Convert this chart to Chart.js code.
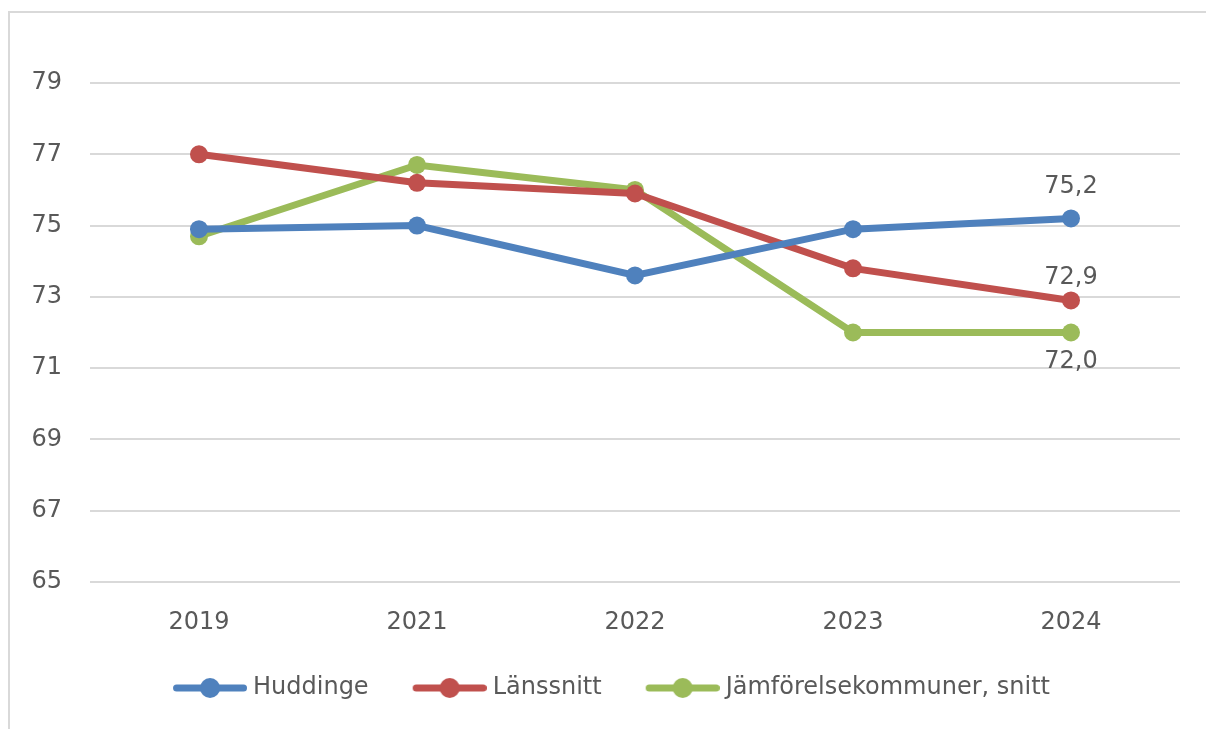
<!DOCTYPE html>
<html>
<head>
<meta charset="utf-8">
<script src="https://cdn.jsdelivr.net/npm/chart.js@4/dist/chart.umd.min.js"></script>
<style>
  html, body { margin: 0; padding: 0; background: #ffffff; }
  #wrap { width: 1206px; height: 729px; position: relative; }
</style>
</head>
<body>
<div id="wrap"><canvas id="c" width="1206" height="729"></canvas></div>
<script>
const categories = ['2019', '2021', '2022', '2023', '2024'];
const huddinge = [74.9, 75.0, 73.6, 74.9, 75.2];
const lanssnitt = [77.0, 76.2, 75.9, 73.8, 72.9];
const jamforelse = [74.7, 76.7, 76.0, 72.0, 72.0];
const seriesNames = ['Huddinge', 'Länssnitt', 'Jämförelsekommuner, snitt'];
const seriesColors = ['#4F81BD', '#C0504D', '#9BBB59'];
const yTicks = [65, 67, 69, 71, 73, 75, 77, 79];
const lastLabelOffsets = [-32, -23, 29];

const FONT = 'DejaVu Sans';
const TEXT = '#595959';

function legendImage(color) {
  const cv = document.createElement('canvas');
  cv.width = 85; cv.height = 22;
  const g = cv.getContext('2d');
  g.strokeStyle = color; g.lineWidth = 7; g.lineCap = 'round';
  g.beginPath(); g.moveTo(14.5, 11); g.lineTo(81.5, 11); g.stroke();
  g.fillStyle = color;
  g.beginPath(); g.arc(48, 11, 10, 0, Math.PI * 2); g.fill();
  return cv;
}

const bgBorder = {
  id: 'bgBorder',
  beforeDraw(chart) {
    const ctx = chart.ctx;
    ctx.save();
    ctx.fillStyle = '#ffffff';
    ctx.fillRect(0, 0, chart.width, chart.height);
    ctx.strokeStyle = '#d9d9d9';
    ctx.lineWidth = 2;
    ctx.beginPath();
    ctx.moveTo(9, chart.height);
    ctx.lineTo(9, 12);
    ctx.lineTo(chart.width, 12);
    ctx.stroke();
    ctx.restore();
  }
};

const legendShift = {
  id: 'legendShift',
  afterLayout(chart) {
    const lg = chart.legend;
    if (lg) { lg.left += 6; lg.right += 6; }
  }
};

const lastLabels = {
  id: 'lastLabels',
  afterDatasetsDraw(chart) {
    const ctx = chart.ctx;
    ctx.save();
    ctx.font = '24px "' + FONT + '"';
    ctx.fillStyle = TEXT;
    ctx.textAlign = 'center';
    ctx.textBaseline = 'middle';
    chart.data.datasets.forEach((ds, i) => {
      const meta = chart.getDatasetMeta(i);
      const n = ds.data.length - 1;
      const pt = meta.data[n];
      const v = ds.data[n];
      ctx.fillText(v.toFixed(1).replace('.', ','), pt.x, pt.y + lastLabelOffsets[i]);
    });
    ctx.restore();
  }
};

const allSeries = [huddinge, lanssnitt, jamforelse];

new Chart(document.getElementById('c'), {
  type: 'line',
  data: {
    labels: categories,
    datasets: allSeries.map((d, i) => ({
      label: seriesNames[i],
      data: d,
      borderColor: seriesColors[i],
      backgroundColor: seriesColors[i],
      borderWidth: 7,
      pointStyle: 'circle',
      pointRadius: 9,
      pointHoverRadius: 9,
      pointBackgroundColor: seriesColors[i],
      pointBorderColor: seriesColors[i],
      pointBorderWidth: 0,
      tension: 0,
      fill: false
    }))
  },
  options: {
    responsive: false,
    animation: false,
    devicePixelRatio: 1,
    layout: { padding: { left: 26, right: 26, top: 83, bottom: 19 } },
    plugins: {
      tooltip: { enabled: false },
      legend: {
        position: 'bottom',
        labels: {
          usePointStyle: true,
          pointStyleWidth: 73,
          padding: 39,
          color: TEXT,
          font: { family: FONT, size: 24 },
          generateLabels(chart) {
            return chart.data.datasets.map((ds, i) => ({
              text: ds.label,
              fillStyle: seriesColors[i],
              strokeStyle: seriesColors[i],
              lineWidth: 0,
              pointStyle: legendImage(seriesColors[i]),
              fontColor: TEXT,
              hidden: false,
              datasetIndex: i
            }));
          }
        }
      }
    },
    scales: {
      x: {
        offset: true,
        grid: { display: false, drawTicks: false },
        border: { display: false },
        ticks: { color: TEXT, font: { family: FONT, size: 24 }, padding: 26, maxRotation: 0 },
        afterFit(s) { s.height = 55; }
      },
      y: {
        min: 65,
        max: 79,
        afterBuildTicks(s) { s.ticks = yTicks.map(v => ({ value: v })); },
        grid: { color: '#d9d9d9', lineWidth: 2, drawTicks: false },
        border: { display: false },
        ticks: { color: TEXT, font: { family: FONT, size: 24 }, padding: 28 },
        afterFit(s) { s.width = 64; }
      }
    }
  },
  plugins: [bgBorder, legendShift, lastLabels]
});
</script>
</body>
</html>
